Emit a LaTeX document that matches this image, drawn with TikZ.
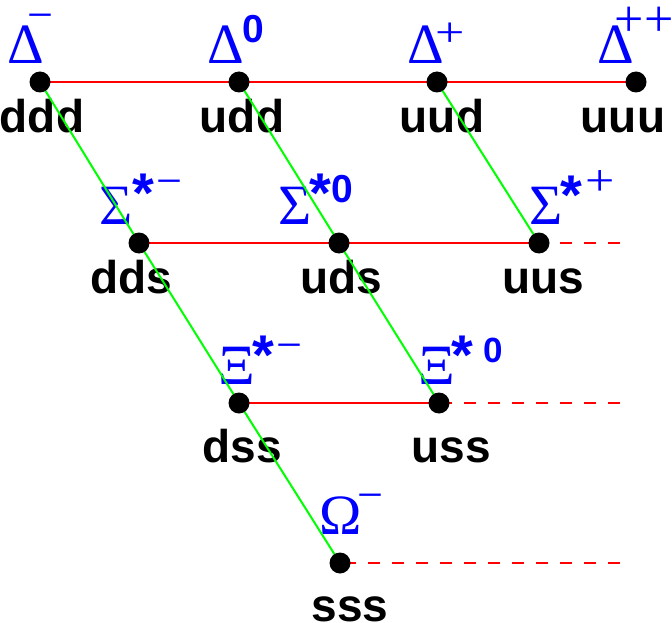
\documentclass[tikz,border=0pt]{standalone}
\usepackage{fontspec}
\newfontfamily\lsans{Liberation Sans}
\newfontfamily\lserif{Liberation Serif}
\tikzset{
  dot/.style={circle, fill=black, inner sep=0pt, minimum size=21pt},
  quark/.style={font=\lsans\bfseries\fontsize{46}{48}\selectfont, anchor=base, inner sep=0pt},
  gk/.style={font=\lserif\fontsize{57}{60}\selectfont, text=blue, inner sep=0pt, anchor=center},
  supn/.style={font=\lsans\bfseries\fontsize{39}{40}\selectfont, text=blue, inner sep=0pt, anchor=center},
  supa/.style={font=\lsans\bfseries\fontsize{56}{56}\selectfont, text=blue, inner sep=0pt, anchor=center, yshift=-7pt},
  supm/.style={font=\lserif\fontsize{46}{48}\selectfont, text=blue, inner sep=0pt, anchor=center, yshift=-9pt},
  supp/.style={font=\lserif\fontsize{52}{54}\selectfont, text=blue, inner sep=0pt, anchor=center, yshift=1pt},
  redline/.style={red, line width=2pt},
  reddash/.style={red, line width=2pt, dash pattern=on 12pt off 12pt},
  greenline/.style={green, line width=2pt},
}
\begin{document}
\begin{tikzpicture}[x=1pt,y=-1pt]
\useasboundingbox (0,0) rectangle (672,623);
% quark labels
\node[quark] (tddd) at (42,132) {ddd};
\node[quark] (tudd) at (242,132) {udd};
\node[quark] (tuud) at (442,132) {uud};
\node[quark] (tuuu) at (623,132) {uuu};
\node[quark] (tdds) at (131,293) {dds};
\node[quark] (tuds) at (341,293) {uds};
\node[quark] (tuus) at (543,293) {uus};
\node[quark] (tdss) at (242,462) {dss};
\node[quark] (tuss) at (451,462) {uss};
\node[quark] (tsss) at (350,621) {sss};
% particle labels
\node[gk] (gDm) at (26,45) {Δ};
\node[supm] (sDm) at (40,13) {−};
\node[gk] (gD0) at (225.5,45) {Δ};
\node[supn] (sD0) at (253,29) {0};
\node[gk] (gDp) at (426,45) {Δ};
\node[supp, yscale=0.8] (sDp) at (450,35.5) {+};
\node[gk] (gDpp) at (616,45) {Δ};
\node[supp] (sDpp1) at (629,23) {+};
\node[supp] (sDpp2) at (659,23) {+};
\node[gk] (gSm) at (116,205.5) {Σ};
\node[supa] (aSm) at (143.5,186) {*};
\node[supm] (sSm) at (169,179) {−};
\node[gk] (gS0) at (295,205.5) {Σ};
\node[supa] (aS0) at (320,186) {*};
\node[supn] (sS0) at (342.5,189) {0};
\node[gk] (gSp) at (546,205.5) {Σ};
\node[supa] (aSp) at (571.5,188) {*};
\node[supp, yscale=0.85] (sSp) at (600,184) {+};
\node[gk] (gXm) at (236.5,366) {Ξ};
\node[supa] (aXm) at (263.5,348) {*};
\node[supm] (sXm) at (289,343) {−};
\node[gk] (gX0) at (436.5,366) {Ξ};
\node[supa] (aX0) at (462,348.5) {*};
\node[supn, font=\lsans\bfseries\fontsize{35}{36}\selectfont] (sX0) at (493,350) {0};
\node[gk] (gOm) at (341,515.5) {Ω};
\node[supm] (sOm) at (370,493) {−};
% dot positions
\coordinate (pddd) at (40,82);
\coordinate (pudd) at (239,82);
\coordinate (puud) at (437,82);
\coordinate (puuu) at (636,82);
\coordinate (pdds) at (139,243);
\coordinate (puds) at (339,243);
\coordinate (puus) at (539,243);
\coordinate (pdss) at (239,403);
\coordinate (puss) at (439,403);
\coordinate (psss) at (340,563);
\coordinate (e2) at (620,243);
\coordinate (e3) at (620,403);
\coordinate (e4) at (620,563);
% lines
\draw[redline] (pddd) -- (pudd) -- (puud) -- (puuu);
\draw[redline] (pdds) -- (puds) -- (puus);
\draw[redline] (pdss) -- (puss);
\draw[reddash] (e2) -- (puus);
\draw[reddash] (e3) -- (puss);
\draw[reddash] (e4) -- (psss);
\draw[greenline] (pddd) -- (pdds) -- (pdss) -- (psss);
\draw[greenline] (pudd) -- (puds) -- (puss);
\draw[greenline] (puud) -- (puus);
% dots
\foreach \n in {ddd,udd,uud,uuu,dds,uds,uus,dss,uss,sss}
  \node[dot] (\n) at (p\n) {};
\end{tikzpicture}
\end{document}
